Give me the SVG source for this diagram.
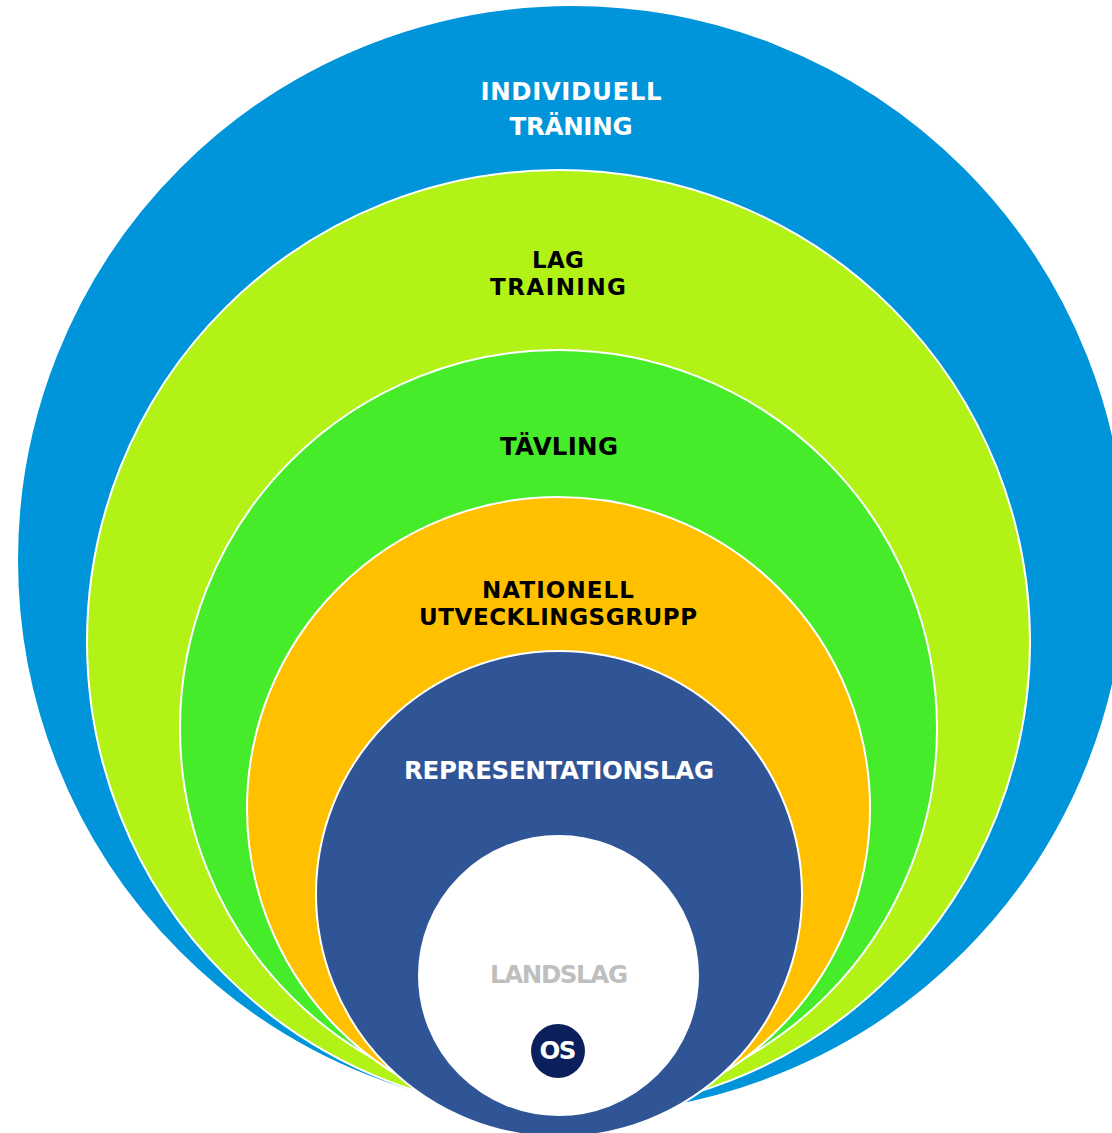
<svg xmlns="http://www.w3.org/2000/svg" width="1112" height="1133" viewBox="0 0 1112 1133">
<style>
.ring{stroke:#ffffff;stroke-width:2}
.t{font-family:"DejaVu Sans","Liberation Sans",sans-serif;font-weight:bold;font-size:24.5px;text-anchor:middle}
.s{font-size:23px}
.w{fill:#ffffff}
.k{fill:#000000}
</style>
<rect width="1112" height="1133" fill="#ffffff"/>
<g id="individuell">
<circle class="ring" cx="572" cy="560" r="555" fill="#0095DA"/>
<text class="t w" x="571" y="100" textLength="181" lengthAdjust="spacing">INDIVIDUELL</text>
<text class="t w" x="571" y="135" textLength="123" lengthAdjust="spacing">TRÄNING</text>
</g>
<g id="lag">
<circle class="ring" cx="558.5" cy="641.5" r="471.5" fill="#B2F216"/>
<text class="t s k" x="558" y="268" textLength="52" lengthAdjust="spacing">LAG</text>
<text class="t s k" x="558" y="295" textLength="136" lengthAdjust="spacing">TRAINING</text>
</g>
<g id="tavling">
<circle class="ring" cx="558.5" cy="728.5" r="378.5" fill="#46EC2A"/>
<text class="t k" x="559" y="455" textLength="118" lengthAdjust="spacing">TÄVLING</text>
</g>
<g id="nationell">
<circle class="ring" cx="558.5" cy="808.5" r="311.5" fill="#FFC000"/>
<text class="t s k" x="558" y="598" textLength="152" lengthAdjust="spacing">NATIONELL</text>
<text class="t s k" x="558" y="625" textLength="278" lengthAdjust="spacing">UTVECKLINGSGRUPP</text>
</g>
<g id="representationslag">
<circle class="ring" cx="559" cy="894" r="243" fill="#2F5597"/>
<text class="t w" x="559" y="779" textLength="310" lengthAdjust="spacing">REPRESENTATIONSLAG</text>
</g>
<g id="landslag">
<circle class="ring" cx="558.5" cy="975.5" r="139.5" fill="#ffffff"/>
<text class="t" x="559" y="983" fill="#BFBFBF" textLength="138" lengthAdjust="spacing">LANDSLAG</text>
</g>
<g id="os">
<circle cx="558" cy="1051" r="27" fill="#0A1F5C"/>
<text class="t w" x="558" y="1059" textLength="37" lengthAdjust="spacing">OS</text>
</g>
<g id="connectors"></g>
</svg>
